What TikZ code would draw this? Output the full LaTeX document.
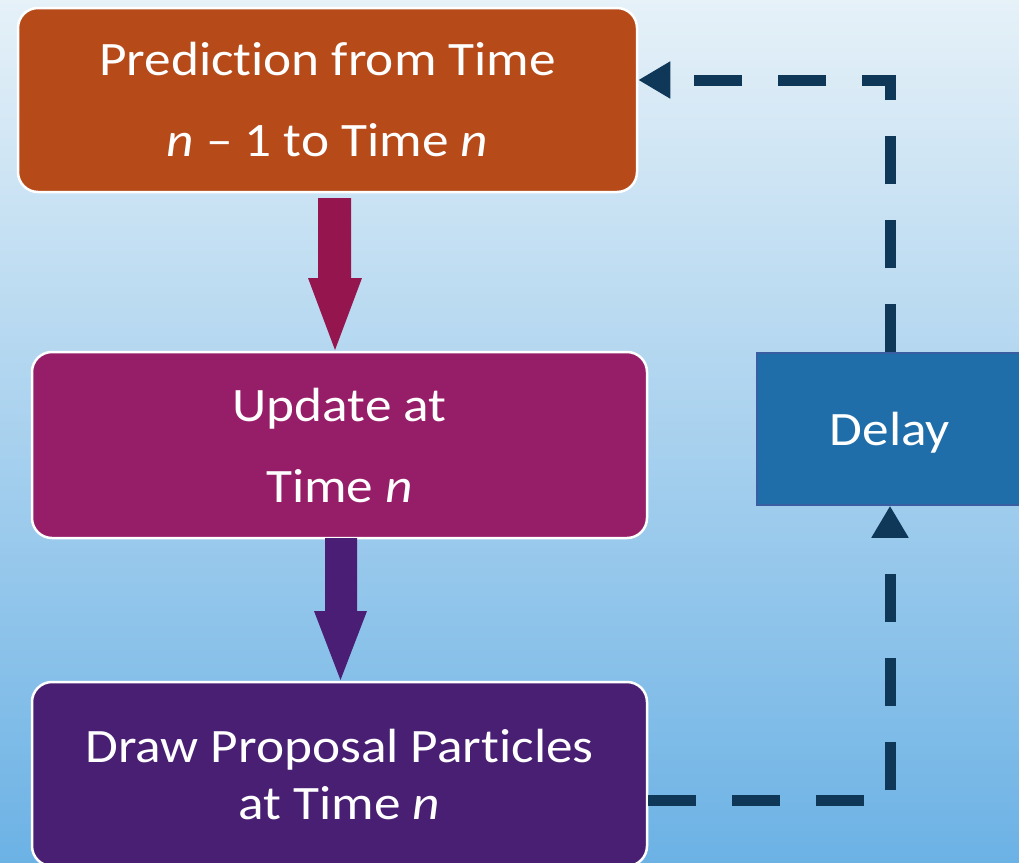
\documentclass[tikz,border=0pt]{standalone}
\usepackage{fontspec}
\setmainfont{Carlito}[FakeStretch=1.11, Ligatures=NoCommon]
\usetikzlibrary{arrows.meta,calc}
\definecolor{bgtop}{HTML}{E6F1F8}
\definecolor{bgmid}{HTML}{BEDCEF}
\definecolor{bgbot}{HTML}{6CB2E5}
\definecolor{predcol}{HTML}{B64A19}
\definecolor{updcol}{HTML}{961D68}
\definecolor{drawcol}{HTML}{481F72}
\definecolor{arrowA}{HTML}{95154F}
\definecolor{arrowB}{HTML}{4A1E74}
\definecolor{delaycol}{HTML}{1F6EAA}
\definecolor{delayedge}{HTML}{3A5EA2}
\definecolor{dashcol}{HTML}{0F3758}
\begin{document}
\begin{tikzpicture}[x=1pt,y=-1pt,
  stagebox/.style={draw=white, line width=2.5pt, rounded corners=20pt, text=white,
    align=center, inner sep=0pt},
  bigfont/.style={font=\fontsize{48}{81}\selectfont},
  delaybox/.style={draw=delayedge, line width=1.5pt, fill=delaycol, text=white,
    inner sep=0pt, text depth=0pt, font=\fontsize{48}{56}\selectfont},
  feedback/.style={draw=dashcol, line width=11pt, dash pattern=on 48pt off 36pt,
    -{Triangle[width=35pt,length=32pt]}}]
  % background
  \shade[top color=bgtop, middle color=bgmid, bottom color=bgbot]
    (0,0) rectangle (1019,862);
  \useasboundingbox (0,0) rectangle (1019,862);

  % boxes
  \node[stagebox, bigfont, fill=predcol, minimum width=619pt, minimum height=184pt]
    (pred) at (327.5,100) {Prediction from Time\\\textit{n} -- 1 to Time \textit{n}};
  \node[stagebox, bigfont, fill=updcol, minimum width=615pt, minimum height=186pt]
    (upd) at (339.5,445) {Update at\\Time \textit{n}};
  \node[stagebox, font=\fontsize{48}{57}\selectfont, fill=drawcol, minimum width=615pt, minimum height=184pt]
    (drw) at (339.5,774) {Draw Proposal Particles\\at Time \textit{n}};
  \node[delaybox, minimum width=266pt, minimum height=152pt]
    (delay) at (890,429) {Delay};

  % fat arrows
  \fill[arrowA] (318,198) -- (351,198) -- (351,278) -- (362,278) -- (335,350)
    -- (308,278) -- (318,278) -- cycle;
  \fill[arrowB] (325,538) -- (357,538) -- (357,611) -- (367,611) -- (340.5,680)
    -- (314,611) -- (325,611) -- cycle;

  % feedback loop
  \draw[feedback] ([yshift=-26pt]drw.east) -| (delay.south);
  \draw[feedback] (delay.north) |- ([yshift=20pt]pred.east);
\end{tikzpicture}
\end{document}
